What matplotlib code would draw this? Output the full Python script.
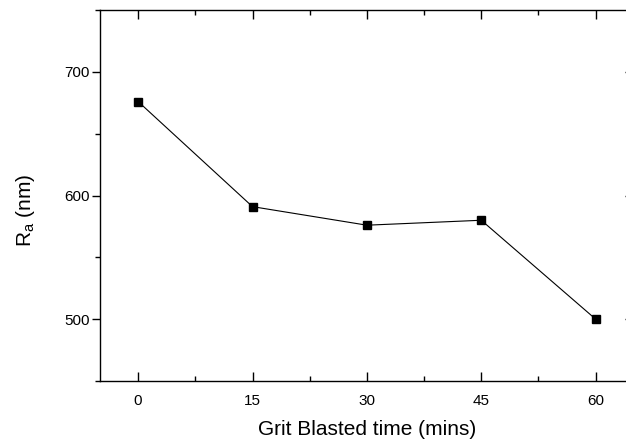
import matplotlib
matplotlib.use('Agg')
import matplotlib.pyplot as plt
from matplotlib.ticker import MultipleLocator

# data
blast_time = [0, 15, 30, 45, 60]
ra_nm = [676, 591, 576, 580, 500]

plt.rcParams['font.family'] = ['Liberation Sans', 'DejaVu Sans']
plt.rcParams['mathtext.default'] = 'regular'

fig = plt.figure(figsize=(6.26, 4.43), dpi=100)
ax = fig.add_axes([0.1597, 0.1399, 0.8528, 0.8375])

ax.plot(blast_time, ra_nm, color='black', linewidth=0.8,
        marker='s', markersize=6, markerfacecolor='black', markeredgecolor='black')

ax.set_xlim(-5, 65)
ax.set_ylim(450, 750)
ax.xaxis.set_major_locator(MultipleLocator(15))
ax.xaxis.set_minor_locator(MultipleLocator(7.5))
ax.yaxis.set_major_locator(MultipleLocator(100))
ax.yaxis.set_minor_locator(MultipleLocator(50))

for s in ax.spines.values():
    s.set_linewidth(1.0)

# bottom/top ticks point inwards, left ticks outwards, right inwards
ax.tick_params(axis='x', which='both', direction='in', top=True, bottom=True,
               labelsize=11, pad=9, width=1.0)
ax.tick_params(axis='x', which='major', length=6.5)
ax.tick_params(axis='x', which='minor', length=3.5)
ax.tick_params(axis='y', which='both', direction='out', left=True, right=False,
               labelsize=11, pad=1.5, width=1.0)
ax.tick_params(axis='y', which='major', length=6)
ax.tick_params(axis='y', which='minor', length=3.5)

# right side ticks point inwards
ax2 = ax.secondary_yaxis('right')
ax2.yaxis.set_major_locator(MultipleLocator(100))
ax2.yaxis.set_minor_locator(MultipleLocator(50))
ax2.tick_params(which='both', direction='in', labelright=False, width=1.0)
ax2.tick_params(which='major', length=6.5)
ax2.tick_params(which='minor', length=3.5)
ax2.spines['right'].set_linewidth(1.0)

ax.set_xlabel('Grit Blasted time (mins)', fontsize=15, labelpad=9)
ax.set_ylabel('R$_a$ (nm)', fontsize=15)
ax.yaxis.set_label_coords(-0.118, 0.46)

fig.savefig('out.png', dpi=100)
